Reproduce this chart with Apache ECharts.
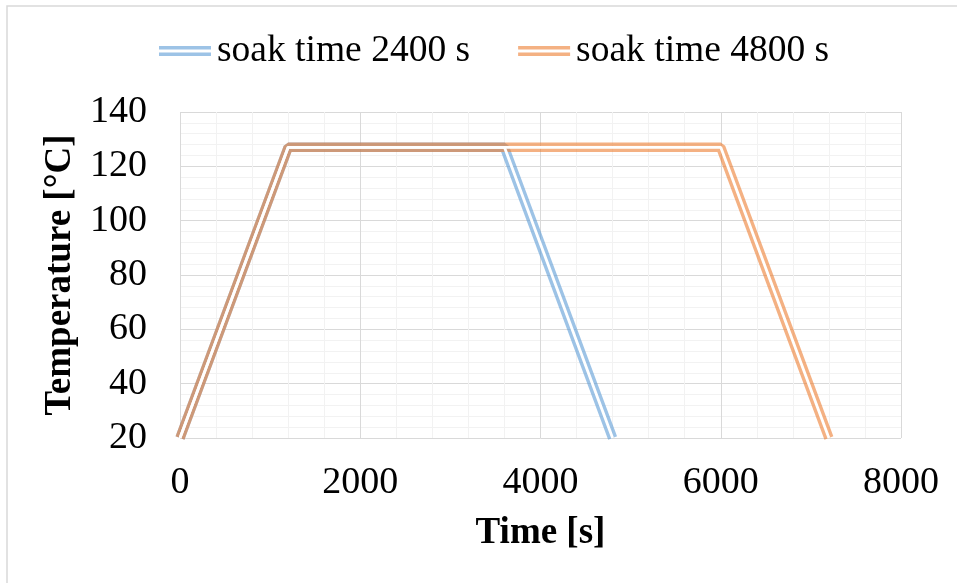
<!DOCTYPE html>
<html>
<head>
<meta charset="utf-8">
<script src="https://cdn.jsdelivr.net/npm/echarts@6/dist/echarts.min.js"></script>
<style>html,body{margin:0;padding:0;background:#fff;}#c{width:957px;height:583px;}</style>
</head>
<body>
<div id="c"></div>
<script>
const seriesNames = ['soak time 2400 s', 'soak time 4800 s'];
const soak2400 = [[0, 20], [1200, 127], [3600, 127], [4800, 20]];
const soak4800 = [[0, 20], [1200, 127], [6000, 127], [7200, 20]];
const xTicks = [0, 2000, 4000, 6000, 8000];
const yTicks = [20, 40, 60, 80, 100, 120, 140];

const FONT = "'Liberation Serif', 'Times New Roman', serif";
const blue = 'rgba(91,155,213,0.6)';
const orange = 'rgba(237,125,49,0.6)';

function outer(name, data, color) {
  return { name: name, type: 'line', data: data, symbol: 'none', silent: true,
    lineStyle: { color: color, width: 9.5 }, itemStyle: { color: color }, z: 2 };
}
function inner(name, data) {
  return { name: name, type: 'line', data: data, symbol: 'none', silent: true,
    lineStyle: { color: '#ffffff', width: 2.8 }, itemStyle: { color: '#fff' }, z: 3 };
}

const chart = echarts.init(document.getElementById('c'));
chart.setOption({
  animation: false,
  backgroundColor: '#ffffff',
  graphic: [{ type: 'rect', shape: { x: 7, y: 6, width: 1000, height: 1000 },
    style: { fill: 'none', stroke: '#d9d9d9', lineWidth: 1.5 }, silent: true }],
  legend: {
    left: 154, top: 27, itemWidth: 52, itemHeight: 10, itemGap: 48,
    icon: 'path://M0,0H52V3.6H0Z M0,6.4H52V10H0Z',
    textStyle: { fontFamily: FONT, fontSize: 37.5, color: '#000', padding: [0, 0, 0, 1] },
    data: [
      { name: seriesNames[0], itemStyle: { color: blue } },
      { name: seriesNames[1], itemStyle: { color: orange } }
    ]
  },
  grid: { left: 180, right: 56, top: 112, bottom: 145, containLabel: false },
  xAxis: {
    type: 'value', min: xTicks[0], max: xTicks[xTicks.length - 1], interval: 2000,
    name: 'Time [s]', nameLocation: 'middle', nameGap: 77,
    nameTextStyle: { fontFamily: FONT, fontSize: 37, fontWeight: 'bold', color: '#000' },
    axisLine: { show: false }, axisTick: { show: false },
    axisLabel: { fontFamily: FONT, fontSize: 38, color: '#000', margin: 26,
      formatter: function (v) { return String(v); } },
    splitLine: { show: true, lineStyle: { color: '#d9d9d9', width: 1 } },
    minorTick: { show: false, splitNumber: 5 },
    minorSplitLine: { show: true, lineStyle: { color: '#f2f2f2', width: 1 } }
  },
  yAxis: {
    type: 'value', min: yTicks[0], max: yTicks[yTicks.length - 1], interval: 20,
    name: 'Temperature [°C]', nameLocation: 'middle', nameGap: 97,
    nameTextStyle: { fontFamily: FONT, fontSize: 37, fontWeight: 'bold', color: '#000' },
    axisLine: { show: false }, axisTick: { show: false },
    axisLabel: { fontFamily: FONT, fontSize: 38, color: '#000', margin: 33 },
    splitLine: { show: true, lineStyle: { color: '#d9d9d9', width: 1 } },
    minorTick: { show: false, splitNumber: 5 },
    minorSplitLine: { show: true, lineStyle: { color: '#f2f2f2', width: 1 } }
  },
  series: [
    outer(seriesNames[0], soak2400, blue),
    outer(seriesNames[1], soak4800, orange),
    inner('_in2400', soak2400),
    inner('_in4800', soak4800)
  ]
});
</script>
</body>
</html>
